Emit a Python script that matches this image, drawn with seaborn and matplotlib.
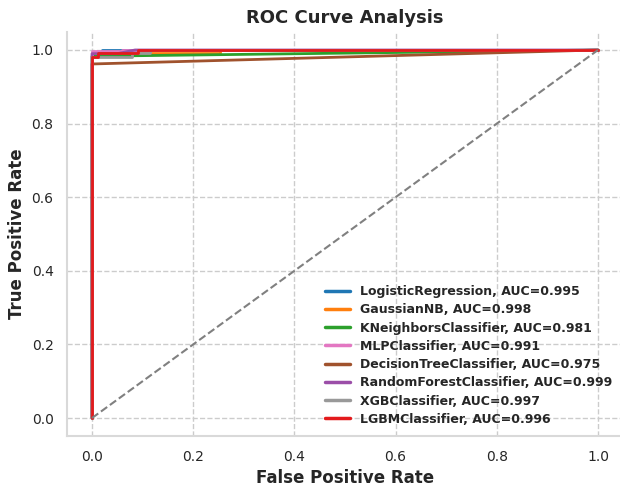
import numpy as np
import pandas as pd
import matplotlib
matplotlib.use("Agg")
import matplotlib.pyplot as plt
import seaborn as sns

models = ["LogisticRegression", "GaussianNB", "KNeighborsClassifier", "MLPClassifier",
          "DecisionTreeClassifier", "RandomForestClassifier", "XGBClassifier", "LGBMClassifier"]
aucs = [0.995, 0.998, 0.981, 0.991, 0.975, 0.999, 0.997, 0.996]
colors = ["#1f77b4", "#ff7f0e", "#2ca02c", "#e377c2", "#a0522d", "#9b4ea8", "#999999", "#e31a1c"]

fpr_lr = [0.0, 0.0, 0.02, 0.02, 1.0]
tpr_lr = [0.0, 0.985, 0.985, 1.0, 1.0]
fpr_nb = [0.0, 0.0, 0.253, 0.253, 1.0]
tpr_nb = [0.0, 0.991, 0.991, 1.0, 1.0]
fpr_knn = [0.0, 0.0, 1.0]
tpr_knn = [0.0, 0.983, 1.0]
fpr_mlp = [0.0, 0.0, 0.06, 0.06, 1.0]
tpr_mlp = [0.0, 0.997, 0.997, 1.0, 1.0]
fpr_dt = [0.0, 0.0, 1.0]
tpr_dt = [0.0, 0.962, 1.0]
fpr_rf = [0.0, 0.0, 0.05, 0.085, 1.0]
tpr_rf = [0.0, 0.99, 0.99, 1.0, 1.0]
fpr_xgb = [0.0, 0.0, 0.015, 0.08, 0.08, 0.115, 0.115, 1.0]
tpr_xgb = [0.0, 0.982, 0.982, 0.982, 0.991, 0.991, 1.0, 1.0]
fpr_lgbm = [0.0, 0.0, 0.012, 0.012, 0.09, 0.09, 1.0]
tpr_lgbm = [0.0, 0.982, 0.982, 0.991, 0.991, 1.0, 1.0]

fprs = [fpr_lr, fpr_nb, fpr_knn, fpr_mlp, fpr_dt, fpr_rf, fpr_xgb, fpr_lgbm]
tprs = [tpr_lr, tpr_nb, tpr_knn, tpr_mlp, tpr_dt, tpr_rf, tpr_xgb, tpr_lgbm]

sns.set_theme(style="whitegrid")
plt.rcParams["font.family"] = ["DejaVu Sans"]

fig = plt.figure(figsize=(6.2, 4.86), dpi=100)
ax = fig.add_axes([0.1076, 0.102, 0.8977, 0.833])

frames = []
for m, a, f, t in zip(models, aucs, fprs, tprs):
    frames.append(pd.DataFrame({"fpr": f, "tpr": t, "model": f"{m}, AUC={a:.3f}"}))
df = pd.concat(frames, ignore_index=True)

labels = [f"{m}, AUC={a:.3f}" for m, a in zip(models, aucs)]
for lab, col in zip(labels, colors):
    sub = df[df["model"] == lab]
    sns.lineplot(data=sub, x="fpr", y="tpr", sort=False, estimator=None, color=col,
                 linewidth=2, label=lab, ax=ax)

ax.plot([0, 1], [0, 1], linestyle="--", color="gray", linewidth=1.5)

ax.set_xlim(-0.05, 1.05)
ax.set_ylim(-0.05, 1.05)
ax.set_xticks(np.arange(0, 1.01, 0.2))
ax.set_yticks(np.arange(0, 1.01, 0.2))
ax.tick_params(labelsize=10)
ax.grid(True, linestyle="--", color="#cccccc", linewidth=1)
ax.set_xlabel("False Positive Rate", fontsize=12, fontweight="bold")
ax.set_ylabel("True Positive Rate", fontsize=12, fontweight="bold")
ax.set_title("ROC Curve Analysis", fontsize=13, fontweight="bold")
sns.despine(ax=ax)
for s in ["left", "bottom"]:
    ax.spines[s].set_color("#d9d9d9")
    ax.spines[s].set_linewidth(1.5)

leg = ax.legend(loc="lower right", frameon=False, prop={"weight": "bold", "size": 9},
                labelspacing=0.42, borderaxespad=0.45)
for line in leg.get_lines():
    line.set_linewidth(2.5)

fig.savefig("out.png", dpi=100)
